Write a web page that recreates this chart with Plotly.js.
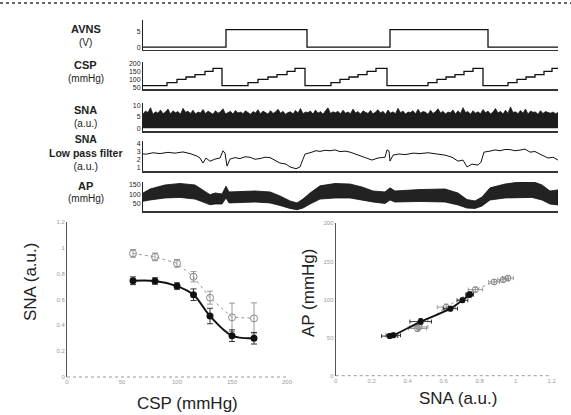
<!DOCTYPE html>
<html><head><meta charset="utf-8">
<script src="https://cdn.plot.ly/plotly-3.0.1.min.js"></script>
<style>html,body{margin:0;padding:0;background:#fff}#chart{width:571px;height:415px}</style>
</head><body><div id="chart"></div>
<script>
// ---------- top panel recordings (time in s) ----------
var avnsTime = [0, 166, 328, 494, 690, 830];
var avnsV    = [0, 5.8, 0, 5.8, 0, 0];

var cspTime  = [0,48,68,86,104,124,140, 158,210,230,250,268,288,304, 324,376,394,412,430,448,466, 488,570,588,606,624,642,660, 680,730,748,766,784,802,818, 830];
var cspLevel = [60,80,100,115,130,150,170, 60,80,100,115,130,150,170, 60,80,100,115,130,150,170, 60,80,100,115,130,150,170, 60,80,100,115,130,150,170, 170];

// raw SNA: upper envelope of the dense burst signal, every 5 s
var snaRawTop = [6.2,7.4,6.8,8.9,6.0,7.1,6.5,7.9,6.3,7.0,8.3,6.1,7.5,6.7,7.2,6.0,8.6,6.9,7.3,6.4,
                 7.8,6.2,7.0,6.6,8.1,6.3,7.4,6.8,6.0,7.6,6.5,7.1,8.4,6.2,6.9,7.3,6.1,7.7,6.6,7.0,
                 6.3,7.5,6.8,6.0,7.2,6.6,8.0,6.2,7.4,6.9,6.1,7.6,6.4,7.0,8.2,6.5,7.3,6.0,6.8,7.1,
                 6.2,7.7,6.6,8.5,6.3,7.0,6.8,7.4,6.1,7.9,6.5,7.2,6.0,7.6,8.8,6.4,7.1,6.7,7.3,6.2,
                 7.8,6.5,7.0,6.3,8.3,6.6,7.2,6.1,7.5,6.9,6.4,7.7,6.2,7.0,8.0,6.6,7.3,6.0,7.9,6.5,
                 7.1,6.3,8.6,6.7,7.4,6.1,7.0,6.8,7.6,6.2,8.2,6.5,7.2,6.9,6.0,7.8,6.4,7.1,8.4,6.6,
                 7.3,6.2,7.0,6.7,7.9,6.1,7.5,6.4,8.9,6.8,7.2,6.0,7.6,6.5,7.1,6.3,8.1,6.7,7.4,6.2,
                 7.0,8.5,6.6,7.3,6.1,7.8,6.4,9.2,6.8,7.1,6.3,7.7,6.5,8.3,6.2,7.4,6.9,7.0,6.0,7.6,
                 6.4,7.2,6.8,6.5,7.0,6.3,6.8];
var snaRawTime = snaRawTop.map(function (v, i) { return i * 5; });

var lpfTime = [0,7,20,34,50,64,80,94,108,114,120,126,134,144,154,160,164,168,174,184,194,204,214,224,234,244,254,264,274,286,294,306,314,320,324,338,346,354,364,374,384,394,404,414,430,444,458,470,484,488,492,494,500,512,524,540,554,570,584,604,618,630,640,648,658,670,676,682,694,704,714,724,734,744,754,764,774,784,794,810,820,830];
var lpfVal  = [2.7,2.68,2.85,2.75,2.9,2.8,2.95,2.75,2.44,2.2,1.58,2.2,1.8,2.07,2.2,3.09,2.8,1.2,2.07,2.25,2.13,2.35,2.3,2.05,2.13,2.3,2.25,1.95,1.58,1.45,1.1,0.88,1.1,2.07,2.68,2.93,3.1,3.02,3.15,3.1,3.2,2.99,3.05,2.93,2.56,2.25,1.95,2.2,2.3,3.2,3.05,1.82,2.56,2.7,2.62,2.8,2.75,2.85,2.75,2.56,2.3,1.82,1.95,1.1,1.45,1.33,1.7,2.93,3.05,3.2,3.1,3.25,3.24,3.1,3.18,3.3,2.93,3.0,2.68,2.2,2.3,1.95];

var apTime   = [0,14,44,74,104,120,134,144,158,166,172,194,224,254,274,294,308,320,334,354,384,414,438,460,484,494,504,554,604,630,648,664,678,694,724,754,778,798,814,830];
var apTop    = [106,128,150,158,150,123,97,106,101,143,112,114,117,112,90,63,52,73,106,145,158,155,139,117,112,134,117,125,128,106,70,63,84,134,155,166,170,150,117,123];
var apBottom = [61,68,79,82,73,57,42,46,46,79,52,54,57,52,38,22,15,24,46,73,79,79,68,57,49,68,57,60,57,41,24,22,35,68,79,82,82,68,46,41];

// ---------- bottom panels ----------
var cspSteps   = [60, 80, 100, 115, 130, 150, 170];
var snaCtrl    = [0.745, 0.743, 0.704, 0.637, 0.472, 0.32, 0.30];
var snaCtrlErr = [0.03, 0.025, 0.025, 0.045, 0.06, 0.045, 0.045];
var snaStim    = [0.957, 0.93, 0.88, 0.776, 0.614, 0.462, 0.454];
var snaStimErr = [0.03, 0.03, 0.03, 0.04, 0.05, 0.11, 0.12];

var apCtrl     = [107, 106, 99, 88, 71, 53, 52];
var apCtrlErr  = [3, 3, 3, 3, 4, 3, 3];
var snaCtrlXErr= [0.02, 0.02, 0.03, 0.04, 0.06, 0.04, 0.045];
var apStim     = [128, 126, 123, 113, 90, 64, 62];
var apStimErr  = [3, 3, 3, 3, 4, 4, 4];
var snaStimXErr= [0.03, 0.03, 0.03, 0.04, 0.05, 0.05, 0.05];

// ---------- geometry helpers ----------
var W = 571, H = 415;
function xd(l, r) { return [l / W, r / W]; }
function yd(t, b) { return [1 - b / H, 1 - t / H]; }
function px(x) { return x / W; }
function py(y) { return 1 - y / H; }

var FONT = 'Liberation Sans, Arial, sans-serif';
var topX = xd(143, 558);

function closedBand(t, top, bottom) {
  return { x: t.concat(t.slice().reverse()), y: top.concat(bottom.slice().reverse()) };
}
var apBand = closedBand(apTime, apTop, apBottom);

var traces = [
  {x: avnsTime, y: avnsV, xaxis: 'x', yaxis: 'y', mode: 'lines', line: {shape: 'hv', color: '#111', width: 1.3}},
  {x: cspTime, y: cspLevel, xaxis: 'x2', yaxis: 'y2', mode: 'lines', line: {shape: 'hv', color: '#111', width: 1.3}},
  {x: snaRawTime, y: snaRawTop, xaxis: 'x3', yaxis: 'y3', mode: 'lines', fill: 'tozeroy', fillcolor: '#1c1c1c', line: {color: '#111', width: 0.7}},
  {x: lpfTime, y: lpfVal, xaxis: 'x4', yaxis: 'y4', mode: 'lines', line: {color: '#111', width: 1}},
  {x: apBand.x, y: apBand.y, xaxis: 'x5', yaxis: 'y5', mode: 'lines', fill: 'toself', fillcolor: '#222', line: {color: '#111', width: 0.8}},

  {x: cspSteps, y: snaStim, xaxis: 'x6', yaxis: 'y6', mode: 'lines+markers',
   line: {color: '#999', width: 1, dash: 'dot'},
   marker: {symbol: 'circle-open', size: 7, color: '#888', line: {width: 1}},
   error_y: {type: 'data', array: snaStimErr, color: '#999', thickness: 1, width: 3}},
  {x: cspSteps, y: snaCtrl, xaxis: 'x6', yaxis: 'y6', mode: 'lines+markers',
   line: {color: '#111', width: 2, shape: 'spline'},
   marker: {symbol: 'circle', size: 7, color: '#111'},
   error_y: {type: 'data', array: snaCtrlErr, color: '#333', thickness: 1, width: 3}},

  {x: snaStim, y: apStim, xaxis: 'x7', yaxis: 'y7', mode: 'lines+markers',
   line: {color: '#999', width: 1, dash: 'dot'},
   marker: {symbol: 'circle-open', size: 6, color: '#888', line: {width: 1}},
   error_x: {type: 'data', array: snaStimXErr, color: '#999', thickness: 1, width: 2},
   error_y: {type: 'data', array: apStimErr, color: '#999', thickness: 1, width: 2}},
  {x: snaCtrl, y: apCtrl, xaxis: 'x7', yaxis: 'y7', mode: 'lines+markers',
   line: {color: '#111', width: 1.8, shape: 'spline'},
   marker: {symbol: 'circle', size: 6, color: '#111'},
   error_x: {type: 'data', array: snaCtrlXErr, color: '#333', thickness: 1, width: 2},
   error_y: {type: 'data', array: apCtrlErr, color: '#333', thickness: 1, width: 2}}
];

function topXAxis(anchor) {
  return {domain: topX, range: [0, 830], anchor: anchor, showline: true, linecolor: '#333', linewidth: 1.6,
          showgrid: false, zeroline: false, showticklabels: false, ticks: ''};
}
function topYAxis(anchor, dom, range, tv) {
  return {domain: dom, range: range, anchor: anchor, showline: true, linecolor: '#222', linewidth: 1,
          showgrid: false, zeroline: false, ticks: '', tickvals: tv, ticktext: tv.map(String),
          tickfont: {family: FONT, size: 7, color: '#222'}};
}
var smallTick = {family: FONT, size: 6, color: '#9a9a9a'};

var layout = {
  width: W, height: H, margin: {l: 0, r: 0, t: 0, b: 0},
  paper_bgcolor: '#fff', plot_bgcolor: 'rgba(0,0,0,0)', showlegend: false,
  font: {family: FONT},
  xaxis: topXAxis('y'),
  yaxis: topYAxis('x', yd(20, 49.5), [-0.8, 9], [0, 5]),
  xaxis2: topXAxis('y2'),
  yaxis2: topYAxis('x2', yd(62, 89), [39, 210], [50, 100, 150, 200]),
  xaxis3: topXAxis('y3'),
  yaxis3: topYAxis('x3', yd(103, 131), [-1.2, 10.9], [0, 5, 10]),
  xaxis4: topXAxis('y4'),
  yaxis4: topYAxis('x4', yd(141, 171), [0.6, 4.3], [1, 2, 3, 4]),
  xaxis5: topXAxis('y5'),
  yaxis5: topYAxis('x5', yd(182, 211), [8, 166], [50, 100, 150]),

  xaxis6: {domain: xd(67, 287), range: [0, 200], anchor: 'y6', showline: false, showgrid: false, zeroline: false,
           ticks: '', tickvals: [0, 50, 100, 150, 200], tickfont: smallTick},
  yaxis6: {domain: yd(222, 377), range: [0, 1.2], anchor: 'x6', showline: true, linecolor: '#555', linewidth: 1,
           showgrid: false, zeroline: false, ticks: '', tickvals: [0, 0.2, 0.4, 0.6, 0.8, 1, 1.2], tickfont: smallTick},
  xaxis7: {domain: xd(335.7, 551.7), range: [0, 1.2], anchor: 'y7', showline: false, showgrid: false, zeroline: false,
           ticks: '', tickvals: [0, 0.2, 0.4, 0.6, 0.8, 1, 1.2], tickfont: smallTick},
  yaxis7: {domain: yd(223.3, 375.7), range: [0, 200], anchor: 'x7', showline: true, linecolor: '#555', linewidth: 1,
           showgrid: false, zeroline: false, ticks: '', tickvals: [0, 50, 100, 150, 200], tickfont: smallTick},

  shapes: [
    {type: 'line', xref: 'paper', yref: 'paper', x0: 0, x1: 1, y0: py(3), y1: py(3), line: {color: '#666', width: 2, dash: 'dot'}},
    {type: 'line', xref: 'paper', yref: 'paper', x0: px(67), x1: px(287), y0: py(377), y1: py(377), line: {color: '#999', width: 1, dash: 'dot'}},
    {type: 'line', xref: 'paper', yref: 'paper', x0: px(335.7), x1: px(551.7), y0: py(375.7), y1: py(375.7), line: {color: '#999', width: 1, dash: 'dot'}}
  ],
  annotations: []
};

function lab(text, x, y, size, bold, angle) {
  layout.annotations.push({xref: 'paper', yref: 'paper', x: px(x), y: py(y), xanchor: 'center', yanchor: 'middle',
    text: bold ? '<b>' + text + '</b>' : text, showarrow: false, textangle: angle || 0,
    font: {family: FONT, size: size, color: '#222'}});
}
lab('AVNS', 86, 29, 11, true); lab('(V)', 86, 43, 10, false);
lab('CSP', 86, 65, 11, true); lab('(mmHg)', 86, 78, 10, false);
lab('SNA', 86, 110, 11, true); lab('(a.u.)', 86, 123, 10, false);
lab('<b>SNA</b><br><b>Low pass filter</b><br>(a.u.)', 86, 152, 10.5, false);
lab('AP', 86, 186, 11, true); lab('(mmHg)', 86, 198, 10, false);

lab('SNA (a.u.)', 30, 282, 17, false, -90);
lab('CSP (mmHg)', 187, 403, 17, false);
lab('AP (mmHg)', 308, 293, 17, false, -90);
lab('SNA (a.u.)', 458, 398, 17, false);

Plotly.newPlot('chart', traces, layout, {staticPlot: true, displayModeBar: false});
</script></body></html>
